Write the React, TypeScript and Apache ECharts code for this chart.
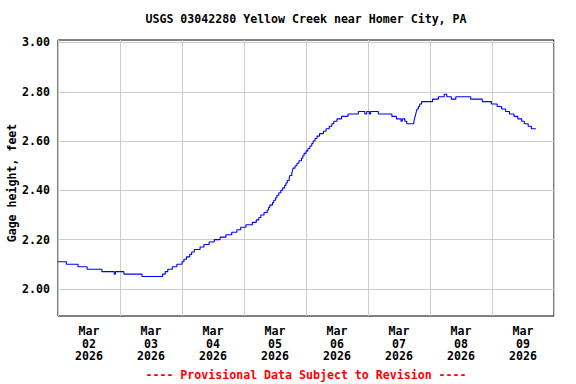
import React, { useEffect, useRef } from "react";
import * as echarts from "echarts";

const TITLE = "USGS 03042280 Yellow Creek near Homer City, PA";
const FOOTER = "---- Provisional Data Subject to Revision ----";
const Y_NAME = "Gage height, feet";

// Day categories (each spans 24 h, starting Mar 02 00:00)
const DAY_LABELS = [
  "Mar\n02\n2026",
  "Mar\n03\n2026",
  "Mar\n04\n2026",
  "Mar\n05\n2026",
  "Mar\n06\n2026",
  "Mar\n07\n2026",
  "Mar\n08\n2026",
  "Mar\n09\n2026",
];
const Y_TICKS = [2.0, 2.2, 2.4, 2.6, 2.8, 3.0];
const Y_MIN = 1.89;
const Y_MAX = 3.01;

// Gage height change points: hours since Mar 02 00:00 and the value from then on
const STEP_HOURS = [
  0, 3.25, 7.75, 11.25, 17, 21.75, 22.25, 25.5, 32.5, 40.5, 41.5, 42.5, 44.25, 46,
  48, 48.75, 49.75, 51, 51.75, 52.75, 55, 56.5, 58.5, 60.5, 62.75, 65, 67.25, 69.25,
  70.75, 72.75, 75.25, 76.75, 77.75, 78.5, 79.75, 81, 81.5, 82, 83, 83.5, 84.25,
  84.75, 85.5, 86.25, 87, 87.75, 88.25, 88.75, 89.5, 89.75, 90.5, 90.75, 91, 91.75,
  92.5, 93.25, 94.25, 94.75, 95.25, 96, 96.75, 97.5, 98.25, 98.75, 99.5, 100.25,
  101.25, 102.75, 103.75, 105, 106, 106.75, 108, 109.75, 112.25, 116.25, 118.75,
  119.5, 120.5, 121, 124, 129.25, 131, 132.75, 133.25, 134.25, 135, 137.75, 138,
  138.25, 138.5, 138.75, 139, 139.5, 140, 140.75, 145, 147.25, 149.5, 150.5, 152.25,
  154, 159.75, 164.25, 167.75, 170, 171.75, 173.25, 174.75, 176.5, 178, 179.5, 180.5,
  182, 183.25, 185,
];
const STEP_VALUES = [
  2.11, 2.1, 2.09, 2.08, 2.07, 2.06, 2.07, 2.06, 2.05, 2.06, 2.07, 2.08, 2.09, 2.1,
  2.11, 2.12, 2.13, 2.14, 2.15, 2.16, 2.17, 2.18, 2.19, 2.2, 2.21, 2.22, 2.23, 2.24,
  2.25, 2.26, 2.27, 2.28, 2.29, 2.3, 2.31, 2.32, 2.33, 2.34, 2.35, 2.36, 2.37,
  2.38, 2.39, 2.4, 2.41, 2.42, 2.43, 2.44, 2.45, 2.46, 2.47, 2.48, 2.49, 2.5,
  2.51, 2.52, 2.53, 2.54, 2.55, 2.56, 2.57, 2.58, 2.59, 2.6, 2.61, 2.62,
  2.63, 2.64, 2.65, 2.66, 2.67, 2.68, 2.69, 2.7, 2.71, 2.72, 2.71,
  2.72, 2.71, 2.72, 2.71, 2.7, 2.69, 2.68, 2.69, 2.68, 2.67, 2.68, 2.69,
  2.7, 2.71, 2.72, 2.73, 2.74, 2.75, 2.76, 2.77, 2.78, 2.79, 2.78, 2.77,
  2.78, 2.77, 2.76, 2.75, 2.74, 2.73, 2.72, 2.71, 2.7, 2.69, 2.68, 2.67,
  2.66, 2.65, 2.65,
];

const FONT = "'DejaVu Sans Mono', monospace";
const FS = 11.6;

export default function App() {
  const ref = useRef<HTMLDivElement>(null);

  useEffect(() => {
    if (!ref.current) return;
    const chart = echarts.init(ref.current, null, { renderer: "svg" });
    const data = STEP_HOURS.map((h, i) => [h, STEP_VALUES[i]]);
    const labelHours = DAY_LABELS.map((_, i) => i * 24 + 12);

    chart.setOption({
      animation: false,
      backgroundColor: "#ffffff",
      grid: {
        left: 58,
        right: 22,
        top: 40,
        bottom: 68,
        show: true,
        borderColor: "#000000",
        borderWidth: 1,
        backgroundColor: "transparent",
        containLabel: false,
      },
      xAxis: {
        type: "value",
        min: 0,
        max: DAY_LABELS.length * 24,
        interval: 24,
        axisLine: { show: false },
        axisTick: { show: false },
        splitLine: { show: true, lineStyle: { color: "#cccccc", width: 1 } },
        axisLabel: {
          customValues: labelHours,
          formatter: (v: number) => DAY_LABELS[Math.round((v - 12) / 24)] ?? "",
          fontFamily: FONT,
          fontWeight: "bold",
          fontSize: FS,
          lineHeight: 12.5,
          color: "#000000",
          margin: 9,
        },
      },
      yAxis: {
        type: "value",
        min: Y_MIN,
        max: Y_MAX,
        axisLine: { show: false },
        axisTick: { show: false, customValues: Y_TICKS },
        splitLine: { show: true, lineStyle: { color: "#cccccc", width: 1 } },
        axisLabel: {
          customValues: Y_TICKS,
          formatter: (v: number) => v.toFixed(2),
          fontFamily: FONT,
          fontWeight: "bold",
          fontSize: FS,
          color: "#000000",
          margin: 8,
        },
      },
      graphic: [
        {
          type: "text",
          x: 306,
          y: 19,
          style: {
            text: TITLE,
            fontFamily: FONT,
            fontWeight: "bold",
            fontSize: FS,
            fill: "#000000",
            align: "center",
            verticalAlign: "middle",
          },
        },
        {
          type: "text",
          x: 12,
          y: 183,
          rotation: Math.PI / 2,
          style: {
            text: Y_NAME,
            fontFamily: FONT,
            fontWeight: "bold",
            fontSize: FS,
            fill: "#000000",
            align: "center",
            verticalAlign: "middle",
          },
        },
        {
          type: "text",
          x: 306,
          y: 375,
          style: {
            text: FOOTER,
            fontFamily: FONT,
            fontWeight: "bold",
            fontSize: FS,
            fill: "#ff0000",
            align: "center",
            verticalAlign: "middle",
          },
        },
      ],
      series: [
        {
          type: "line",
          step: "end",
          data,
          showSymbol: false,
          symbol: "none",
          lineStyle: { color: "#0000ff", width: 1.1 },
          silent: true,
        },
      ],
    });

    return () => chart.dispose();
  }, []);

  return (
    <div
      ref={ref}
      style={{ position: "fixed", left: 0, top: 0, width: 576, height: 384, background: "#fff" }}
    />
  );
}
